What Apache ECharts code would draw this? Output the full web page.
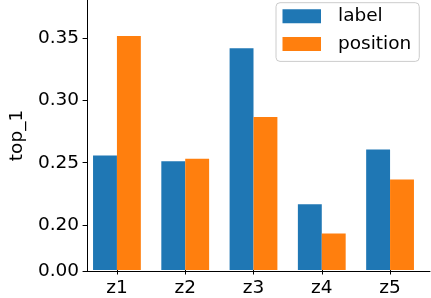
<!DOCTYPE html>
<html><head><meta charset="utf-8">
<script src="https://cdn.jsdelivr.net/npm/echarts@6/dist/echarts.min.js"></script>
<style>html,body{margin:0;padding:0;background:#fff}#c{width:431px;height:298px}</style>
</head><body><div id="c"></div>
<script>
const categories = ['z1', 'z2', 'z3', 'z4', 'z5'];
const labelValues = [0.2554, 0.2508, 0.3418, 0.2161, 0.2602];
const positionValues = [0.3517, 0.2527, 0.2864, 0.1925, 0.2361];
const yTickValues = [0.1631, 0.20, 0.25, 0.30, 0.35];
const yTickLabels = ['0.00', '0.20', '0.25', '0.30', '0.35'];
const yMin = 0.1631, yMax = 0.3806;

const font = 'DejaVu Sans';
const chart = echarts.init(document.getElementById('c'), null, {renderer: 'canvas'});
chart.setOption({
  animation: false,
  backgroundColor: '#fff',
  grid: [
    {left: 82.8, right: 6.8, top: 0, bottom: 27, containLabel: false},
    {left: 77, right: 1, top: 0, bottom: 27, containLabel: false}
  ],
  legend: {
    orient: 'vertical', left: 276, top: 2.7,
    padding: [4, 8, 8, 6.5],
    itemWidth: 38.5, itemHeight: 14, itemGap: 8.7,
    icon: 'rect',
    borderColor: '#cccccc', borderWidth: 1, borderRadius: 4,
    backgroundColor: 'rgba(255,255,255,0.8)',
    textStyle: {fontFamily: font, fontSize: 18.5, color: '#000', lineHeight: 19, padding: [0, 0, 0, 12]},
    data: ['label', 'position']
  },
  xAxis: [
    {
      type: 'category', gridIndex: 0, data: categories,
      axisLine: {show: false},
      axisTick: {show: true, alignWithLabel: true, length: 4.5, lineStyle: {color: '#000', width: 1}},
      axisLabel: {margin: 9, fontFamily: font, fontSize: 18.5, color: '#000'}
    },
    {
      type: 'value', gridIndex: 1, min: 0, max: 1,
      splitLine: {show: false}, axisTick: {show: false}, axisLabel: {show: false},
      axisLine: {show: true, onZero: false, lineStyle: {color: '#000', width: 1}}
    }
  ],
  yAxis: [
    {
      type: 'value', gridIndex: 0, min: yMin, max: yMax,
      show: false, splitLine: {show: false}
    },
    {
      type: 'value', gridIndex: 1, min: yMin, max: yMax,
      name: 'top_1', nameLocation: 'middle', nameGap: 57,
      nameTextStyle: {fontFamily: font, fontSize: 18.5, color: '#000'},
      splitLine: {show: false},
      axisLine: {show: true, onZero: false, lineStyle: {color: '#000', width: 1}},
      axisTick: {show: true, length: 4.5, lineStyle: {color: '#000', width: 1}, customValues: yTickValues},
      axisLabel: {customValues: yTickValues, margin: 8,
        formatter: v => { const i = yTickValues.findIndex(t => Math.abs(t - v) < 1e-6); return i >= 0 ? yTickLabels[i] : ''; },
        fontFamily: font, fontSize: 18.5, color: '#000'}
    }
  ],
  series: [
    {name: 'label', type: 'bar', xAxisIndex: 0, yAxisIndex: 0, data: labelValues, barCategoryGap: '30%', barGap: '0%', itemStyle: {color: '#1f77b4'}},
    {name: 'position', type: 'bar', xAxisIndex: 0, yAxisIndex: 0, data: positionValues, barCategoryGap: '30%', barGap: '0%', itemStyle: {color: '#ff7f0e'}}
  ]
});
</script></body></html>
